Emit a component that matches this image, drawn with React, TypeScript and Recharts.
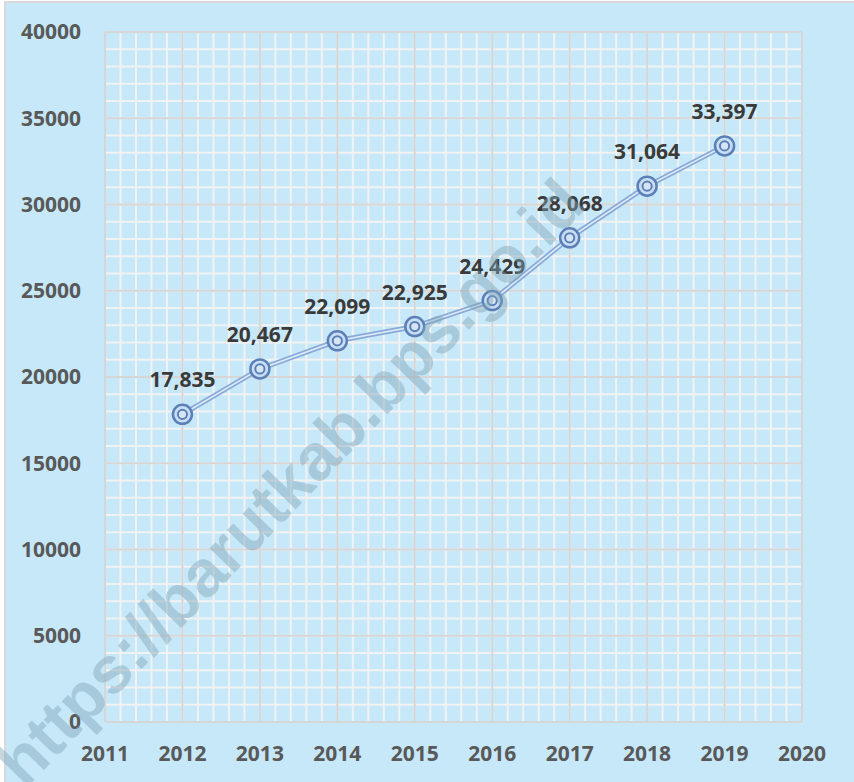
import { LineChart, Line, XAxis, YAxis, CartesianGrid, LabelList } from "recharts";

const years = [2012, 2013, 2014, 2015, 2016, 2017, 2018, 2019];
const values = [17835, 20467, 22099, 22925, 24429, 28068, 31064, 33397];
const xTicks = [2011, 2012, 2013, 2014, 2015, 2016, 2017, 2018, 2019, 2020];
const yTicks = [0, 5000, 10000, 15000, 20000, 25000, 30000, 35000, 40000];
const yMinor = Array.from({ length: 41 }, (_, i) => i * 1000);
const xMinor = Array.from({ length: 46 }, (_, i) => 2011 + i * 0.2);

const data = years.map((y, i) => ({ year: y, value: values[i] }));

const FONT = "'Open Sans', 'Noto Sans', sans-serif";

// grid helpers: map data values to pixel coords via axis scale
function hGen(vals: number[]) {
  return (props: any) => {
    const s = props?.yAxis?.scale;
    const o = props.offset;
    return vals.map(v => (typeof s === "function" ? s(v) : o.top + o.height * (1 - v / 40000)));
  };
}
function vGen(vals: number[]) {
  return (props: any) => {
    const s = props?.xAxis?.scale;
    const o = props.offset;
    return vals.map(v => (typeof s === "function" ? s(v) : o.left + (o.width * (v - 2011)) / 9));
  };
}

function Ring(props: any) {
  const { cx, cy } = props;
  if (cx == null || cy == null) return null;
  return (
    <g>
      <circle cx={cx} cy={cy} r={9.5} fill="#c9def3" stroke="#5b80b8" strokeWidth={2.5} />
      <circle cx={cx} cy={cy} r={4.6} fill="#d6e5f5" stroke="#5b80b8" strokeWidth={2} />
    </g>
  );
}

function ValueLabel(props: any) {
  const { x, y, value } = props;
  return (
    <text x={x} y={y - 27} textAnchor="middle" fontFamily={FONT} fontWeight={700} fontSize={21} fill="#3a3a3a">
      {Number(value).toLocaleString("en-US")}
    </text>
  );
}

export default function App() {
  return (
    <div style={{ position: "absolute", left: 0, top: 0, width: 854, height: 782, background: "#fff", overflow: "hidden" }}>
      <div style={{ position: "absolute", left: 4, top: 1, width: 852, height: 783, boxSizing: "border-box", border: "2px solid #d9d9d9", background: "#c6e8f8" }} />
      <div style={{ position: "absolute", left: 0, top: 0 }}>
        <LineChart width={854} height={782} data={data} margin={{ top: 32, right: 52, bottom: 0, left: 0 }}>
          <CartesianGrid stroke="#f2f2f2" strokeWidth={2} horizontalCoordinatesGenerator={hGen(yMinor)} verticalCoordinatesGenerator={vGen(xMinor)} />
          <CartesianGrid stroke="#d6d6d6" strokeWidth={2} horizontalCoordinatesGenerator={hGen(yTicks)} verticalCoordinatesGenerator={vGen(xTicks)} />
          <XAxis
            dataKey="year"
            type="number"
            domain={[2011, 2020]}
            ticks={xTicks}
            height={60}
            axisLine={false}
            tickLine={false}
            tickSize={0}
            tickMargin={24}
            interval={0}
            tick={{ fill: "#595959", fontSize: 21, fontWeight: 700, fontFamily: FONT }}
          />
          <YAxis
            type="number"
            domain={[0, 40000]}
            ticks={yTicks}
            width={105}
            axisLine={false}
            tickLine={false}
            tickSize={0}
            tickMargin={24}
            interval={0}
            tick={{ fill: "#595959", fontSize: 21, fontWeight: 700, fontFamily: FONT }}
          />
          <Line dataKey="value" stroke="#88aad8" strokeWidth={5} dot={false} activeDot={false} isAnimationActive={false} />
          <Line dataKey="value" stroke="#e3edf8" strokeWidth={1.5} dot={<Ring />} activeDot={false} isAnimationActive={false}>
            <LabelList dataKey="value" content={<ValueLabel />} />
          </Line>
        </LineChart>
      </div>
      <svg width={854} height={782} style={{ position: "absolute", left: 0, top: 0, pointerEvents: "none" }}>
        <text
          x={290}
          y={482}
          transform="rotate(-46 290 482)"
          textAnchor="middle"
          dominantBaseline="central"
          fontFamily="'Liberation Sans', Arial, sans-serif"
          fontWeight={700}
          fontSize={66}
          fill="#7fa3b8"
          fillOpacity={0.45}
        >
          https://barutkab.bps.go.id
        </text>
      </svg>
    </div>
  );
}
